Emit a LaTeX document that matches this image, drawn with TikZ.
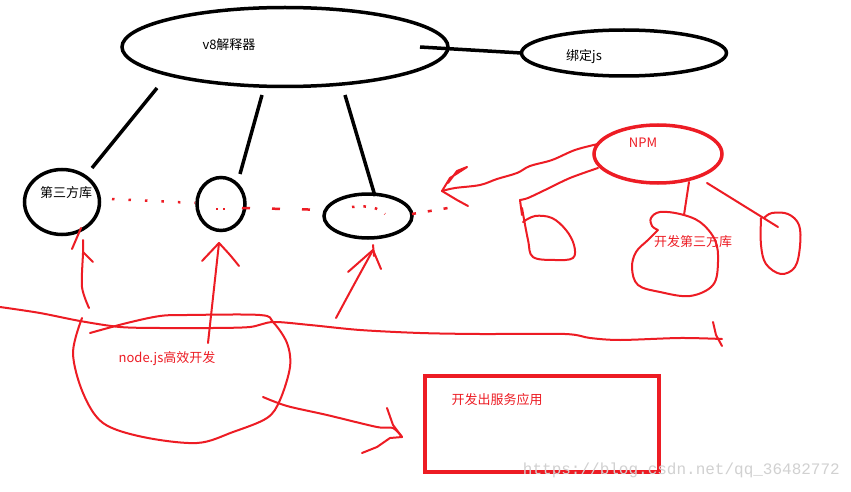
\documentclass[tikz,border=0pt]{standalone}
\usepackage{fontspec}
\setmainfont{Noto Sans CJK SC}
\newfontfamily\wmfont{Liberation Mono}
\usetikzlibrary{shapes.geometric}
\definecolor{pred}{HTML}{ED1C24}
\begin{document}
\begin{tikzpicture}[x=1pt,y=-1pt,
  bl/.style={draw=black,line width=3.5pt},
  rl/.style={draw=pred,line width=2pt,line cap=round,line join=round},
  rthick/.style={draw=pred,line width=3.5pt},
  ell/.style={ellipse,inner sep=0pt,outer sep=0pt},
  txt/.style={font=\fontsize{13}{15}\selectfont,inner sep=0pt},
  rtxt/.style={txt,text=pred},
  rdots/.style={draw=pred,line width=2.5pt,dash pattern=on 2.5pt off 14pt},
]
\useasboundingbox[fill=white] (0,0) rectangle (851,492);

% black part
\node[ell,bl,minimum width=326pt,minimum height=79pt] (v8) at (285,47) {};
\node[txt] (v8t) at (229,45) {v8解释器};
\node[ell,bl,minimum width=205pt,minimum height=46pt] (bind) at (624,53) {};
\node[txt] (bindt) at (584,57) {绑定js};
\draw[bl] ([xshift=-28pt]v8.east) -- (bind.west);

\node[ell,bl,minimum width=75pt,minimum height=65pt] (lib1) at (62,202) {};
\node[txt] (lib1t) at (66,193) {第三方库};
\node[ell,bl,minimum width=48pt,minimum height=53pt] (lib2) at (221,204) {};
\node[ell,bl,minimum width=88pt,minimum height=44pt] (lib3) at (368,216) {};

\coordinate (v8a) at (157,88);
\coordinate (v8b) at (262,95);
\coordinate (v8c) at (345,95);
\coordinate (l1a) at (92,168);
\coordinate (l2a) at (240,174);
\coordinate (l3a) at (375,196);
\draw[bl] (v8a) -- (l1a);
\draw[bl] (v8b) -- (l2a);
\draw[bl] (v8c) -- (l3a);

% red dotted links
\draw[rdots] (112,199) -- (195,203);
\draw[rdots,dash pattern=on 2pt off 5pt] (216,209) -- (226,209);
\draw[rdots,dash pattern=on 8pt off 22pt] (242,208) -- (330,210);
\draw[rdots,dash pattern=on 2.5pt off 9pt] (352,207) .. controls (370,205) and (378,208) .. (385,214);
\draw[rdots,dash pattern=on 4pt off 12pt] (412,214) -- (448,208);

% NPM
\node[ell,rthick,minimum width=128pt,minimum height=58pt] (npm) at (658,154) {};
\node[rtxt] (npmt) at (643,143) {NPM};
\coordinate (arrtip) at (442,191);
\draw[rl] plot[smooth,tension=0.6] coordinates {(598,144) (575,150) (552,160) (530,166) (517,173) (497,179) (480,185) (455,188) (442,191)};
\draw[rl] (arrtip) -- (450,178) -- (467,167) -- (457,171) -- (448,183);
\draw[rl] (arrtip) -- (457,200) -- (468,206);

% left blob
\draw[rl] plot[smooth,tension=0.5] coordinates {(598,168) (570,178) (545,190) (528,198) (520,200)};
\draw[rl] (520,200) -- (522,215);
\draw[rl] plot[smooth,tension=0.6] coordinates {(522,208) (528,240) (533,257) (555,260) (573,258) (574,245) (566,230) (552,218) (535,216) (523,222)};

% middle blob
\draw[rl] (689,182) -- (684,215);
\draw[rl] plot[smooth,tension=0.6] coordinates {(658,230) (652,226) (651,218) (660,212) (680,214) (700,222) (715,240) (718,262) (713,285) (690,296) (660,292) (638,285) (632,268) (636,252) (648,240) (658,230)};
\node[rtxt] (devt) at (693,242) {开发第三方库};

% right blob
\draw[rl] (707,183) -- (778,227);
\draw[rl] plot[smooth,tension=0.6] coordinates {(761,218) (761,245) (766,264) (781,274) (795,267) (800,246) (799,225) (788,214) (772,213) (764,218)};

% up arrows
\draw[rl] plot[smooth,tension=0.5] coordinates {(89,308) (82,287) (83,253) (83,240)};
\draw[rl] (83,252) -- (93,262);
\draw[rl] (72,249) -- (81,228);
\draw[rl] (208,343) -- (219,243);
\draw[rl] (202,261) -- (219,243);
\draw[rl] plot[smooth,tension=0.6] coordinates {(219,243) (230,255) (239,266)};
\draw[rl] plot[smooth,tension=0.5] coordinates {(336,318) (350,292) (362,270) (373,250)};
\draw[rl] (348,272) -- (373,250) -- (381,269);
\draw[rl] (373,245) -- (374,256);

% long horizontal arrow
\coordinate (hl) at (0,307);
\coordinate (hr) at (722,339);
\draw[rl] plot[smooth,tension=0.5] coordinates {(0,307) (40,313) (80,321) (120,327) (160,328) (213,328) (250,327) (273,322) (310,325) (360,330) (420,333) (480,334) (565,334) (590,338) (620,340) (680,338) (722,339)};
\draw[rl] (713,322) -- (716,335) -- (722,346);

% node.js blob
\draw[rl] plot[smooth,tension=0.55] coordinates {(90,333) (127,323) (160,316) (187,315) (260,315) (273,322) (287,343) (290,367) (280,400) (267,418) (233,432) (197,443) (143,437) (103,423) (83,393) (73,353) (82,318)};
\node[rtxt] (nodet) at (167,359) {node.js高效开发};

% arrow to service box
\node[draw=pred,line width=4pt,minimum width=234pt,minimum height=96pt,inner sep=0pt] (svc) at (542,424) {};
\node[rtxt] (svct) at (497,400) {开发出服务应用};
\coordinate (tip2) at (402,437);
\draw[rl] plot[smooth,tension=0.5] coordinates {(263,397) (287,406) (327,415) (377,427) (393,428) (402,437)};
\draw[rl] (387,408) -- (393,425) -- (402,437) -- (390,438) -- (377,447) -- (362,453);

% watermark
\node[font=\wmfont\fontsize{16}{18}\selectfont,text=black!18,inner sep=0pt,anchor=east] (wm) at (840,470) {https://blog.csdn.net/qq\_36482772};
\end{tikzpicture}
\end{document}
